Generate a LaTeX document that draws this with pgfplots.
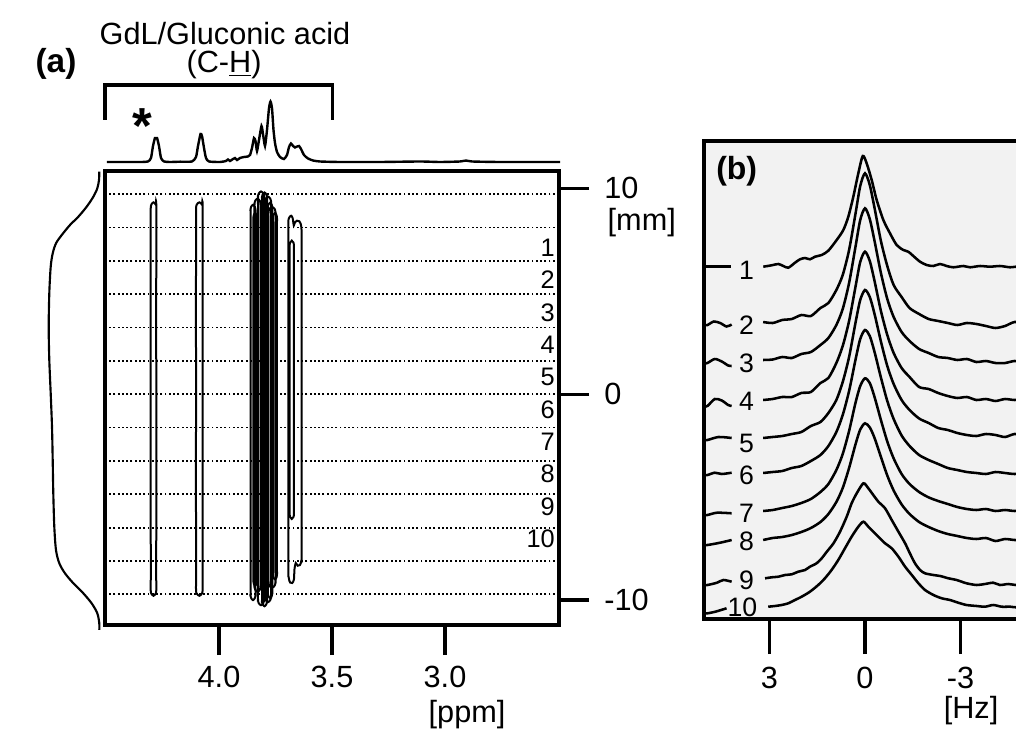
\documentclass[border=0pt]{standalone}
\usepackage{fontspec}
\setmainfont{Liberation Sans}
\usepackage{pgfplots}
\pgfplotsset{compat=1.18}
\newcommand\fA{\fontsize{23}{27}\selectfont}
\newcommand\fB{\fontsize{20}{24}\selectfont}
\newcommand\fC{\fontsize{19}{23}\selectfont}
\begin{document}
\begin{tikzpicture}[x=0.75pt,y=0.75pt]
\fill[white] (0,0) rectangle (1016,729);
\pgfplotsset{every tick label/.append style={font=\fA},
  loop/.style={black, line width=1.5pt, smooth, tension=0.5},
  tr/.style={black, line width=1.9pt, smooth, tension=0.45}}

% ---------- left projection profile ----------
\begin{axis}[at={(33pt,78pt)}, anchor=south west, scale only axis,
  width=45pt, height=340.5pt, xmin=0, xmax=60, x dir=reverse,
  ymin=-11.211, ymax=10.843, hide axis, clip=false]
\addplot[black, line width=1.6pt, smooth, tension=0.5] coordinates {
(4.7,10.81) (5.0,10.40) (6.7,10.00) (10.7,9.59) (17.3,9.11) (25.7,8.62)
(34.0,8.22) (42.3,7.73) (48.0,7.33) (51.3,6.84) (53.3,6.19) (54.7,4.90)
(55.3,3.27) (54.7,1.66) (53.3,0.04) (52.0,-1.58) (51.3,-3.20) (50.7,-4.82)
(49.7,-6.44) (48.0,-7.57) (44.7,-8.21) (39.0,-8.70) (30.7,-9.18) (20.7,-9.67)
(12.3,-10.16) (6.7,-10.64) (4.7,-11.13) (4.7,-11.45)};
\end{axis}

% ---------- top 1D spectrum ----------
\begin{axis}[at={(78.75pt,425.25pt)}, anchor=south west, scale only axis,
  width=340.5pt, height=52.5pt, xmin=2.4956, xmax=4.5044, x dir=reverse,
  ymin=0, ymax=70, hide axis, clip=false]
\addplot[black, line width=1.8pt, smooth, tension=0.35] coordinates {
(4.4956,0) (4.3495,0) (4.3141,0.5) (4.3009,4) (4.2920,16) (4.2832,24) (4.2743,24)
(4.2655,16) (4.2566,4) (4.2433,0.5) (4.2168,0) (4.1725,0.3) (4.1194,0.5) (4.1017,5)
(4.0929,16) (4.0818,28) (4.0752,26) (4.0663,14) (4.0575,4) (4.0442,0.5) (3.9956,0)
(3.9690,1) (3.9602,2.5) (3.9513,1) (3.9380,3) (3.9292,4) (3.9203,2) (3.9071,4)
(3.8894,5) (3.8717,5.5) (3.8628,7) (3.8540,14) (3.8451,24) (3.8385,21) (3.8318,11)
(3.8230,22) (3.8119,36) (3.8053,28) (3.7964,16) (3.7876,32) (3.7787,54) (3.7721,60.5)
(3.7655,54) (3.7588,32) (3.7522,19) (3.7433,10) (3.7301,5) (3.7124,3) (3.6991,7)
(3.6902,15) (3.6814,18.5) (3.6725,16) (3.6637,14.5) (3.6548,15.5) (3.6460,16)
(3.6371,13) (3.6239,7) (3.6062,3.5) (3.5840,1.5) (3.5531,0.5) (3.4646,0) (3.2876,0)
(3.1106,0.5) (3.0221,0) (2.9336,0.5) (2.9071,1.5) (2.8805,0.5) (2.7566,0) (2.4911,0)};
\draw[line width=2.4pt, line join=miter] (axis cs:4.5044,42) |- (axis cs:3.4978,77) -- (axis cs:3.4978,42);
\end{axis}

% ---------- main 2D panel (a) ----------
\begin{axis}[at={(78.75pt,78pt)}, anchor=south west, scale only axis,
  width=340.5pt, height=340.5pt,
  xmin=2.4956, xmax=4.5044, x dir=reverse, ymin=-11.211, ymax=10.843,
  axis line style={line width=2.4pt},
  tick align=outside, major tick length=22.5pt,
  tick style={line width=2.4pt, black},
  xtick={3,3.5,4}, xticklabels={3.0,3.5,4.0}, xtick pos=bottom,
  xticklabel style={yshift=-5pt},
  ytick={-10,0,10}, yticklabels={-10,0,10}, ytick pos=right, yticklabel pos=right,
  yticklabel style={xshift=8pt},
  extra y ticks={-9.72,-8.1,-6.48,-4.86,-3.24,-1.62,0.001,1.62,3.24,4.86,6.48,8.1,9.72},
  extra y tick labels={},
  extra y tick style={grid=major, major tick length=0pt, tick style={draw=none},
     major grid style={line width=1.4pt, black, dash pattern=on 1.4pt off 1.8pt}},
  ]
% loop at 4.29 ppm
\addplot[loop] coordinates {(4.2774,0) (4.2772,-4) (4.2778,-8.5) (4.2774,-9.49) (4.2805,-9.69) (4.2898,-9.79) (4.2991,-9.69) (4.3022,-9.49) (4.3018,-8.5) (4.3024,-4) (4.3020,0) (4.3024,4) (4.3020,8.5) (4.3022,9.02) (4.2991,9.22) (4.2898,9.32) (4.2805,9.22) (4.2774,9.02) (4.2778,4) (4.2774,0)};
% loop at 4.09 ppm
\addplot[loop] coordinates {(4.0725,0) (4.0728,-4) (4.0722,-8.5) (4.0725,-9.49) (4.0761,-9.69) (4.0871,-9.79) (4.0981,-9.69) (4.1017,-9.49) (4.1012,-8.5) (4.1020,-4) (4.1015,0) (4.1019,4) (4.1014,8.5) (4.1017,9.02) (4.0981,9.22) (4.0871,9.32) (4.0761,9.22) (4.0725,9.02) (4.0729,4) (4.0725,0)};
% cluster 3.74-3.86 ppm
\addplot[loop] coordinates {(3.8605,0) (3.8605,-9.0) (3.8605,-9.7) (3.8578,-9.9) (3.8495,-10.0) (3.8413,-9.9) (3.8385,-9.7) (3.8385,-9.0) (3.8385,0) (3.8385,8.2) (3.8385,8.9) (3.8413,9.1) (3.8495,9.2) (3.8578,9.1) (3.8605,8.9) (3.8605,8.2) (3.8605,0)};
\addplot[loop] coordinates {(3.8429,0) (3.8429,-8.6) (3.8429,-9.3) (3.8396,-9.5) (3.8296,-9.6) (3.8196,-9.5) (3.8163,-9.3) (3.8163,-8.6) (3.8163,0) (3.8163,8.5) (3.8163,9.2) (3.8196,9.4) (3.8296,9.5) (3.8396,9.4) (3.8429,9.2) (3.8429,8.5) (3.8429,0)};
\addplot[loop] coordinates {(3.8274,0) (3.8274,-9.25) (3.8274,-9.95) (3.8241,-10.15) (3.8141,-10.25) (3.8041,-10.15) (3.8008,-9.95) (3.8008,-9.25) (3.8008,0) (3.8008,8.85) (3.8008,9.55) (3.8041,9.75) (3.8141,9.85) (3.8241,9.75) (3.8274,9.55) (3.8274,8.85) (3.8274,0)};
\addplot[loop] coordinates {(3.8096,0) (3.8096,-9.3) (3.8096,-10.0) (3.8069,-10.2) (3.7986,-10.3) (3.7904,-10.2) (3.7876,-10.0) (3.7876,-9.3) (3.7876,0) (3.7876,8.8) (3.7876,9.5) (3.7904,9.7) (3.7986,9.8) (3.8069,9.7) (3.8096,9.5) (3.8096,8.8) (3.8096,0)};
\addplot[loop] coordinates {(3.7965,0) (3.7965,-9.1) (3.7965,-9.8) (3.7932,-10.0) (3.7832,-10.1) (3.7732,-10.0) (3.7699,-9.8) (3.7699,-9.1) (3.7699,0) (3.7699,8.6) (3.7699,9.3) (3.7732,9.5) (3.7832,9.6) (3.7932,9.5) (3.7965,9.3) (3.7965,8.6) (3.7965,0)};
\addplot[loop] coordinates {(3.7810,0) (3.7810,-8.4) (3.7810,-9.1) (3.7771,-9.3) (3.7655,-9.4) (3.7539,-9.3) (3.7500,-9.1) (3.7500,-8.4) (3.7500,0) (3.7500,8.1) (3.7500,8.8) (3.7539,9.0) (3.7655,9.1) (3.7771,9.0) (3.7810,8.8) (3.7810,8.1) (3.7810,0)};
\addplot[loop] coordinates {(3.7610,0) (3.7610,-8.0) (3.7610,-8.7) (3.7588,-8.9) (3.7522,-9.0) (3.7456,-8.9) (3.7434,-8.7) (3.7434,-8.0) (3.7434,0) (3.7434,7.8) (3.7434,8.5) (3.7456,8.7) (3.7522,8.8) (3.7588,8.7) (3.7610,8.5) (3.7610,7.8) (3.7610,0)};
\addplot[loop] coordinates {(3.8480,0) (3.8480,-8.3) (3.8480,-9.0) (3.8460,-9.2) (3.8400,-9.3) (3.8340,-9.2) (3.8320,-9.0) (3.8320,-8.3) (3.8320,0) (3.8320,7.8) (3.8320,8.5) (3.8340,8.7) (3.8400,8.8) (3.8460,8.7) (3.8480,8.5) (3.8480,7.8) (3.8480,0)};
\addplot[loop] coordinates {(3.7840,0) (3.7840,-8.9) (3.7840,-9.6) (3.7815,-9.8) (3.7740,-9.9) (3.7665,-9.8) (3.7640,-9.6) (3.7640,-8.9) (3.7640,0) (3.7640,8.3) (3.7640,9.0) (3.7665,9.2) (3.7740,9.3) (3.7815,9.2) (3.7840,9.0) (3.7840,8.3) (3.7840,0)};
% loops at 3.66-3.69 ppm
\addplot[loop] coordinates {(3.6933,0) (3.6933,6) (3.6933,8.2) (3.6905,8.55) (3.6810,8.67) (3.6740,8.55) (3.6690,8.2) (3.6640,8.35) (3.6550,8.43) (3.6445,8.4) (3.6355,8.1) (3.6340,7) (3.6340,0) (3.6340,-7.5) (3.6360,-8.1) (3.6420,-8.3) (3.6520,-8.33) (3.6605,-8.2) (3.6660,-8.5) (3.6685,-9.0) (3.6760,-9.17) (3.6850,-9.15) (3.6915,-8.9) (3.6933,-8.0) (3.6933,0)};
\addplot[loop] coordinates {(3.6875,0) (3.6875,-5.1) (3.6875,-5.8) (3.6851,-5.97) (3.6780,-6.06) (3.6709,-5.97) (3.6685,-5.8) (3.6685,-5.1) (3.6685,0) (3.6685,6.5) (3.6685,7.2) (3.6709,7.37) (3.6780,7.46) (3.6851,7.37) (3.6875,7.2) (3.6875,6.5) (3.6875,0)};
% slice numbers
\foreach \k/\yy in {1/7.13,2/5.56,3/3.98,4/2.41,5/0.84,6/-0.74,7/-2.31,8/-3.88,9/-5.45,10/-7.03}{
  \edef\temp{\noexpand\node[anchor=east, inner sep=0pt, font=\noexpand\fC] at (axis cs:2.5133,\yy) {\k};}
  \temp}
\end{axis}

% ---------- panel (b) ----------
\begin{axis}[at={(528pt,82.5pt)}, anchor=south west, scale only axis,
  width=241.5pt, height=358.5pt,
  xmin=-5.058, xmax=5.058, x dir=reverse, ymin=0, ymax=478,
  axis background/.style={fill=black!5},
  axis line style={line width=2.4pt},
  tick align=outside, major tick length=26.25pt,
  tick style={line width=2.4pt, black},
  xtick={-3,0,3}, xticklabels={-3,0,3}, xtick pos=bottom, ytick=\empty,
  xticklabel style={yshift=-6pt}]
% left stubs
\addplot[tr] coordinates {(5.1,352.3) (4.21,352.3)};
\addplot[tr] coordinates {(5.1,294) (4.95,294) (4.75,297.5) (4.55,296) (4.35,292.5) (4.19,294.5)};
\addplot[tr] coordinates {(5.1,255) (4.95,256) (4.72,260) (4.5,257.5) (4.3,253.5) (4.19,253)};
\addplot[tr] coordinates {(5.1,212) (4.95,213) (4.72,220) (4.5,218.5) (4.3,214) (4.19,213)};
\addplot[tr] coordinates {(5.1,179) (4.95,179) (4.6,182) (4.19,181)};
\addplot[tr] coordinates {(5.1,144) (4.95,144) (4.72,146.3) (4.5,145) (4.19,146.3)};
\addplot[tr] coordinates {(5.1,104) (4.95,104) (4.65,106.3) (4.19,105.7)};
\addplot[tr] coordinates {(5.1,74) (4.95,74) (4.55,76.3) (4.19,79)};
\addplot[tr] coordinates {(5.1,34) (4.95,34) (4.65,36.3) (4.45,39) (4.19,37.3)};
\addplot[tr] coordinates {(5.1,5.7) (4.95,5.7) (4.7,7.3) (4.35,10.7)};
% trace 1
\addplot[tr] coordinates {(3.195,352.3) (2.932,353.7) (2.723,355) (2.566,353) (2.409,351.3) (2.199,356.3) (2.042,359.7) (1.885,361) (1.728,359.7) (1.571,362.3) (1.361,364) (1.152,368.3) (0.890,379) (0.681,389) (0.524,402.3) (0.367,422.3) (0.210,445.7) (0.07,463) (-0.052,455.7) (-0.21,439) (-0.367,419) (-0.576,399) (-0.785,385.7) (-0.995,374) (-1.204,369) (-1.361,367.3) (-1.518,363) (-1.728,357.3) (-1.937,354) (-2.146,353) (-2.356,355) (-2.566,353) (-2.775,351.7) (-3.088,353) (-3.299,351.7) (-3.613,353) (-3.927,352.3) (-4.241,353) (-4.555,351.7) (-4.744,352.3) (-5.1,352.5)};
% trace 2
\addplot[tr] coordinates {(3.2,297) (2.9,296) (2.6,299) (2.3,300) (2.0,304) (1.7,303) (1.4,311) (1.15,316) (0.9,329) (0.7,344) (0.5,369) (0.3,405) (0.15,433) (0,445.7) (-0.15,434) (-0.3,411) (-0.5,378) (-0.7,353) (-0.9,334) (-1.15,322) (-1.4,311) (-1.7,305) (-2.0,300) (-2.3,298) (-2.6,296) (-2.9,294) (-3.2,296) (-3.5,295) (-3.8,293) (-4.1,291) (-4.4,293) (-4.7,297) (-5.1,296)};
% trace 3
\addplot[tr] coordinates {(3.2,259) (2.9,259.5) (2.6,262) (2.3,261) (2.0,265) (1.7,267) (1.4,274) (1.15,281) (0.9,294) (0.7,310) (0.5,336) (0.3,372) (0.15,399) (0,410.7) (-0.15,400) (-0.3,378) (-0.5,346) (-0.7,320) (-0.9,302) (-1.15,287) (-1.4,278) (-1.7,270) (-2.0,266) (-2.3,262) (-2.6,261) (-2.9,259) (-3.2,260) (-3.5,257) (-3.8,258) (-4.1,256) (-4.4,256) (-4.7,258) (-5.1,257)};
% trace 4
\addplot[tr] coordinates {(3.2,219) (2.9,220) (2.6,222) (2.3,222) (2.0,226) (1.7,227) (1.4,236) (1.15,241) (0.9,256) (0.7,273) (0.5,298) (0.3,332) (0.15,357) (0,367.3) (-0.15,358) (-0.3,338) (-0.5,308) (-0.7,284) (-0.9,266) (-1.15,251) (-1.4,242) (-1.7,232) (-2.0,230) (-2.3,226) (-2.6,223) (-2.9,221) (-3.2,222) (-3.5,219) (-3.8,220) (-4.1,218) (-4.4,220) (-4.7,219) (-5.1,220)};
% trace 5
\addplot[tr] coordinates {(3.2,181) (2.9,182) (2.6,183) (2.3,185) (2.0,187) (1.7,193) (1.4,197) (1.15,206) (0.9,219) (0.7,237) (0.5,262) (0.3,296) (0.15,319) (0,329) (-0.15,322) (-0.3,305) (-0.5,277.5) (-0.7,253) (-0.9,235) (-1.15,219) (-1.4,209) (-1.7,200.5) (-2.0,196) (-2.3,191) (-2.6,189) (-2.9,186) (-3.2,184) (-3.5,183) (-3.8,185) (-4.1,184) (-4.4,182) (-4.7,185) (-5.1,184)};
% trace 6
\addplot[tr] coordinates {(3.2,146) (2.9,147) (2.6,148) (2.3,151) (2.0,153) (1.7,158) (1.4,164) (1.15,173) (0.9,187) (0.7,204) (0.5,228) (0.3,259) (0.15,280) (0,289) (-0.15,283) (-0.3,267) (-0.5,241.5) (-0.7,218) (-0.9,200) (-1.15,183.5) (-1.4,173) (-1.7,164) (-2.0,159) (-2.3,155) (-2.6,151) (-2.9,149) (-3.2,147) (-3.5,146) (-3.8,145) (-4.1,147) (-4.4,146) (-4.7,145) (-5.1,146)};
% trace 7
\addplot[tr] coordinates {(3.2,108) (2.9,109) (2.6,111) (2.3,113) (2.0,116) (1.7,120) (1.4,127) (1.15,135) (0.9,149) (0.7,165) (0.5,188) (0.3,216) (0.15,233) (0,240.7) (-0.15,236) (-0.3,222) (-0.5,199) (-0.7,177.5) (-0.9,160.6) (-1.15,145) (-1.4,135) (-1.7,127) (-2.0,121.6) (-2.3,118) (-2.6,115) (-2.9,112) (-3.2,110) (-3.5,109) (-3.8,110) (-4.1,108) (-4.4,109) (-4.7,108) (-5.1,109)};
% trace 8
\addplot[tr] coordinates {(3.2,79) (2.9,81) (2.6,82) (2.3,84) (2.0,87) (1.7,91) (1.4,97) (1.15,105) (0.9,117) (0.7,131) (0.5,151) (0.3,174.5) (0.15,189.5) (0,195.7) (-0.15,191.6) (-0.3,181) (-0.5,162) (-0.7,143.5) (-0.9,128.5) (-1.15,114.6) (-1.4,105) (-1.7,97) (-2.0,92) (-2.3,88) (-2.6,85) (-2.9,83) (-3.2,81) (-3.5,80) (-3.8,81) (-4.1,78) (-4.4,80) (-4.7,79) (-5.1,79)};
% trace 9
\addplot[tr] coordinates {(3.14,40.7) (2.93,41.7) (2.72,42.3) (2.51,44) (2.30,44.7) (2.10,47.3) (1.885,49) (1.73,52.3) (1.52,55.7) (1.36,60.7) (1.20,67.3) (0.99,75.7) (0.785,87.3) (0.575,102.3) (0.42,115.7) (0.26,125.7) (0.05,135.7) (-0.105,130.7) (-0.26,124) (-0.42,117.3) (-0.63,110.7) (-0.84,99) (-1.05,87.3) (-1.26,75.7) (-1.41,65.7) (-1.57,55.7) (-1.73,49) (-1.885,45.7) (-2.15,44) (-2.36,43) (-2.62,40.7) (-2.88,39) (-3.19,35.7) (-3.51,34) (-3.77,35) (-4.03,36.3) (-4.24,34) (-4.50,35) (-4.74,34) (-5.1,34.5)};
% trace 10
\addplot[tr] coordinates {(3.04,12.3) (2.83,13) (2.62,14) (2.41,15.7) (2.20,19) (1.99,22.3) (1.73,27.3) (1.47,34) (1.26,40.7) (1.05,49) (0.84,59) (0.63,70.7) (0.42,82.3) (0.21,92.3) (0.05,97.3) (-0.105,92.3) (-0.42,82.3) (-0.63,75.7) (-0.84,70.7) (-1.05,62.3) (-1.26,52.3) (-1.47,44) (-1.68,35.7) (-1.885,29) (-2.15,24) (-2.41,20.7) (-2.67,19) (-2.93,16.3) (-3.19,14) (-3.51,13) (-3.77,12.3) (-4.03,14) (-4.29,12.3) (-4.56,12.3) (-4.74,11.7) (-5.1,12)};
% trace numbers
\foreach \k/\xx/\yy in {1/3.72/349,2/3.72/294,3/3.72/255.7,4/3.72/217.3,5/3.72/175.7,6/3.72/144,7/3.72/105.7,8/3.72/77.3,9/3.72/38.3,10/3.85/11.8}{
  \edef\temp{\noexpand\node[inner sep=0pt, font=\noexpand\fB] at (axis cs:\xx,\yy) {\k};}
  \temp}
\end{axis}

% ---------- texts ----------
\node[font=\bfseries\fontsize{25}{30}\selectfont] at (56,665) {(a)};
\node[font=\fA] at (225,695) {GdL/Gluconic acid};
\node[font=\fA] at (224,664) {(C-\underline{H})};
\node[font=\bfseries\fontsize{38}{42}\selectfont, anchor=base] at (142.5,585) {*};
\node[font=\fA, anchor=west] at (424,14) {[ppm]};
\node[font=\fA, anchor=west] at (603,506) {[mm]};
\node[font=\fA] at (971,18) {[Hz]};
\node[font=\bfseries\fontsize{24}{29}\selectfont] at (736.7,557.3) {(b)};

\pgfresetboundingbox
\useasboundingbox (0,0) rectangle (1016,729);
\end{tikzpicture}
\end{document}
